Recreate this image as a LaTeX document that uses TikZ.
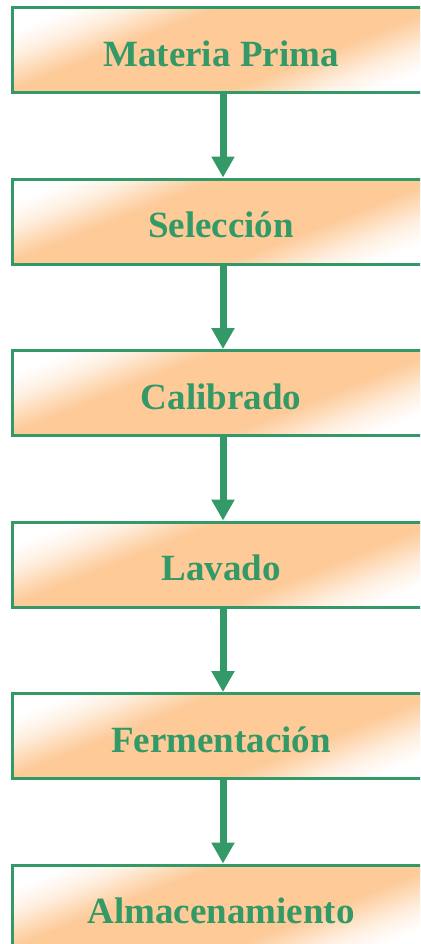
\documentclass[tikz,border=0pt]{standalone}
\usepackage{fontspec}
\setmainfont{Liberation Serif}
\usetikzlibrary{arrows.meta}
\definecolor{verde}{RGB}{51,153,102}
\definecolor{naranja}{RGB}{253,202,152}
% orange band with white edges, 300bp across, centred at 150bp
\pgfdeclareverticalshading{banda}{300bp}{color(0bp)=(white); color(103bp)=(white);
  color(114bp)=(naranja!30); color(124bp)=(naranja!75); color(130bp)=(naranja);
  color(170bp)=(naranja); color(176bp)=(naranja!75); color(186bp)=(naranja!30);
  color(197bp)=(white); color(300bp)=(white)}

\begin{document}
\begin{tikzpicture}[x=0.5pt,y=-0.5pt,
    paso/.style={draw=verde,line width=1.5pt,minimum width=209pt,minimum height=42.5pt,
      inner sep=0pt,text=verde,font=\fontsize{18.5}{22}\selectfont\bfseries,
      text height=16pt,text depth=0pt,
      path picture={
        \pgftransformshift{\pgfpointanchor{path picture bounding box}{center}}
        \pgftransformrotate{21.8}
        \pgflowlevelsynccm
        \pgfuseshading{banda}}},
    flecha/.style={verde,line width=3.5pt,-{Triangle[width=11pt,length=10.5pt]}}]
    \useasboundingbox (0,0) rectangle (420,944);
    \clip (0,0) rectangle (420,944);
    % process steps
    \node [paso] (materia) at (221,50) {Materia Prima};
    \node [paso] (seleccion) at (221,221.5) {Selección};
    \node [paso] (calibrado) at (221,393) {Calibrado};
    \node [paso] (lavado) at (221,564.5) {Lavado};
    \node [paso] (fermentacion) at (221,736) {Fermentación};
    \node [paso] (almacen) at (221,907.5) {Almacenamiento};
    % arrows between steps
    \draw [flecha] ([xshift=1pt]materia.south) -- ([xshift=1pt]seleccion.north);
    \draw [flecha] ([xshift=1pt]seleccion.south) -- ([xshift=1pt]calibrado.north);
    \draw [flecha] ([xshift=1pt]calibrado.south) -- ([xshift=1pt]lavado.north);
    \draw [flecha] ([xshift=1pt]lavado.south) -- ([xshift=1pt]fermentacion.north);
    \draw [flecha] ([xshift=1pt]fermentacion.south) -- ([xshift=1pt]almacen.north);
\end{tikzpicture}
\end{document}
